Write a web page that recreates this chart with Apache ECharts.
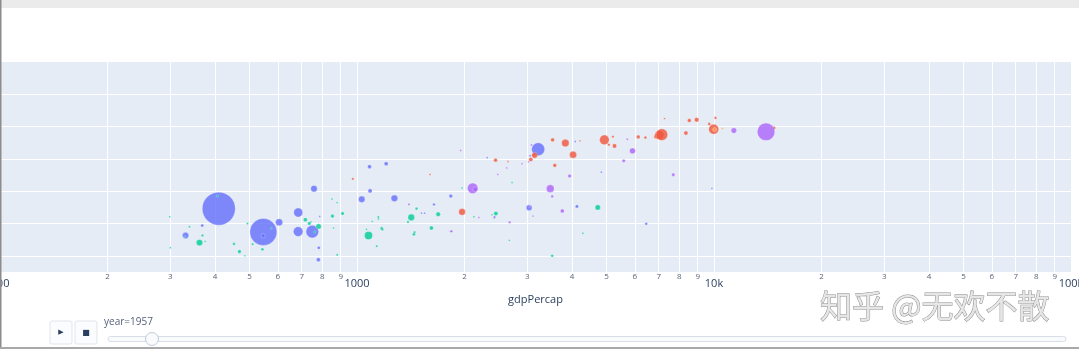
<!DOCTYPE html>
<html><head><meta charset="utf-8">
<script src="https://cdn.jsdelivr.net/npm/echarts@6/dist/echarts.min.js"></script>
<style>html,body{margin:0;padding:0;background:#fff;}#c{width:1079px;height:349px;}</style>
</head><body><div id="c"></div><script>
// Data (frame labelled year=1957): [country, gdpPercap, lifeExp, pop in millions]
const continents = ['Asia', 'Europe', 'Africa', 'Americas', 'Oceania'];
const asia = [
  ['Afghanistan', 779.4, 28.8, 8.43], ['Bahrain', 9867, 50.9, 0.12], ['Bangladesh', 684.2, 37.5, 46.9],
  ['Cambodia', 368.5, 39.4, 4.69], ['China', 410, 44.6, 556.3], ['Hong Kong', 3054, 61.0, 2.13],
  ['India', 546.6, 37.4, 372.0], ['Indonesia', 749.7, 37.5, 82.05], ['Iran', 3035, 44.9, 17.27],
  ['Iraq', 4130, 45.3, 5.44], ['Israel', 4087, 65.4, 1.62], ['Japan', 3217, 63.0, 86.46],
  ['Jordan', 1547, 43.2, 0.61], ['Korea, Dem. Rep.', 1088, 50.1, 8.87], ['Korea, Rep.', 1031, 47.5, 20.95],
  ['Lebanon', 4835, 55.9, 1.44], ['Malaysia', 1831, 48.5, 6.75], ['Mongolia', 786.6, 42.2, 0.80],
  ['Myanmar', 331, 36.3, 20.09], ['Nepal', 545.9, 36.2, 9.18], ['Oman', 1828, 37.6, 0.51],
  ['Pakistan', 684.6, 43.4, 41.35], ['Philippines', 1273, 47.8, 22.44], ['Saudi Arabia', 6460, 39.9, 4.01],
  ['Singapore', 2315, 60.4, 1.13], ['Sri Lanka', 1084, 57.6, 7.98], ['Syria', 1643, 45.9, 3.66],
  ['Taiwan', 1207, 58.5, 8.55], ['Thailand', 757.8, 50.8, 21.29], ['Vietnam', 605.1, 40.4, 26.25],
  ['West Bank and Gaza', 1516, 43.2, 1.03], ['Yemen, Rep.', 781.7, 32.5, 4.96]
];
const europe = [
  ['Albania', 1601, 55.2, 1.28], ['Austria', 6137, 66.8, 6.93], ['Belgium', 8343, 68.0, 8.73],
  ['Bosnia and Herzegovina', 973.5, 53.8, 2.79], ['Bulgaria', 2444, 59.6, 7.27], ['Croatia', 3119, 61.2, 3.88],
  ['Czech Republic', 6876, 66.9, 9.13], ['Denmark', 9692, 70.8, 4.33], ['Finland', 6425, 66.6, 4.09],
  ['France', 7030, 67.4, 42.46], ['Germany', 7144, 67.5, 69.15], ['Greece', 3531, 65.9, 7.73],
  ['Hungary', 5264, 64.0, 9.50], ['Iceland', 7268, 72.5, 0.15], ['Ireland', 5210, 66.9, 2.95],
  ['Italy', 4931, 65.9, 47.67], ['Montenegro', 2648, 59.2, 0.41], ['Netherlands', 8942, 72.1, 10.38],
  ['Norway', 10095, 72.7, 3.33], ['Poland', 4029, 61.3, 25.73], ['Portugal', 3068, 59.8, 8.53],
  ['Romania', 3145, 61.1, 16.63], ['Serbia', 3581, 58.0, 6.86], ['Slovak Republic', 5075, 64.4, 3.56],
  ['Slovenia', 4215, 65.6, 1.49], ['Spain', 3834, 64.9, 28.55], ['Sweden', 8528, 71.9, 7.12],
  ['Switzerland', 14734, 69.6, 4.82], ['Turkey', 1969, 43.6, 22.24], ['United Kingdom', 9980, 69.2, 50.43]
];
const africa = [
  ['Algeria', 2449, 43.1, 9.28], ['Angola', 3521, 30.0, 4.23], ['Benin', 1063, 38.2, 1.74],
  ['Botswana', 851.2, 47.6, 0.44], ['Burkina Faso', 543.3, 32.0, 4.47], ['Burundi', 339.3, 39.0, 2.45],
  ['Cameroon', 1173, 38.5, 5.01], ['Central African Republic', 1071, 35.5, 1.29], ['Chad', 1179, 38.1, 2.68],
  ['Comoros', 1103, 40.7, 0.15], ['Congo, Dem. Rep.', 780.5, 39.1, 14.1], ['Congo, Rep.', 2126, 42.1, 0.85],
  ["Cote d'Ivoire", 1389, 40.5, 2.98], ['Djibouti', 2670, 34.8, 0.06], ['Egypt', 1419, 41.9, 22.22],
  ['Equatorial Guinea', 375.6, 34.5, 0.22], ['Eritrea', 328.9, 35.9, 1.44], ['Ethiopia', 362.1, 34.1, 20.86],
  ['Gabon', 4293, 37.0, 0.42], ['Gambia', 485.2, 30.0, 0.28], ['Ghana', 911.3, 43.1, 5.58],
  ['Guinea', 510.2, 33.6, 2.66], ['Guinea-Bissau', 299.9, 32.5, 0.58], ['Kenya', 853.5, 42.3, 6.46],
  ['Lesotho', 298.8, 42.1, 0.75], ['Liberia', 575.6, 38.5, 0.86], ['Libya', 2388, 42.7, 1.02],
  ['Madagascar', 1443, 36.7, 4.76], ['Malawi', 369.2, 36.3, 2.92], ['Mali', 452.3, 33.7, 3.84],
  ['Mauritania', 743.1, 40.5, 1.02], ['Mauritius', 1968, 51.0, 0.52], ['Morocco', 1688, 42.9, 9.94],
  ['Mozambique', 468.5, 31.3, 6.45], ['Namibia', 2424, 41.7, 0.49], ['Niger', 761.9, 37.4, 3.38],
  ['Nigeria', 1077, 36.3, 33.12], ['Reunion', 2719, 52.7, 0.26], ['Rwanda', 493.3, 40.0, 2.53],
  ['Sao Tome and Principe', 879.6, 46.5, 0.06], ['Senegal', 1450, 37.3, 2.76], ['Sierra Leone', 879.8, 30.3, 2.14],
  ['Somalia', 1136, 33.0, 2.53], ['South Africa', 4725, 45.0, 14.26], ['Sudan', 1616, 38.6, 8.5],
  ['Swaziland', 1148, 41.4, 0.29], ['Tanzania', 716.7, 41.2, 8.32], ['Togo', 859.8, 38.6, 1.22],
  ['Tunisia', 1468, 44.6, 3.65], ['Uganda', 734.8, 40.0, 5.82], ['Zambia', 1147, 42.0, 2.67],
  ['Zimbabwe', 406.9, 48.5, 3.08]
];
const americas = [
  ['Argentina', 5911, 62.5, 17.88], ['Bolivia', 2677, 40.4, 2.88], ['Brazil', 2109, 50.9, 56.6],
  ['Canada', 11367, 68.8, 14.79], ['Chile', 3940, 54.7, 6.38], ['Colombia', 2144, 50.6, 12.35],
  ['Costa Rica', 2627, 57.2, 0.93], ['Cuba', 5587, 59.4, 6.01], ['Dominican Republic', 1398, 45.9, 2.49],
  ['Ecuador', 3522, 48.4, 3.55], ['El Salvador', 3048, 45.3, 2.04], ['Guatemala', 2428, 42.0, 3.15],
  ['Haiti', 1840, 37.6, 3.2], ['Honduras', 2195, 41.9, 1.52], ['Jamaica', 2899, 58.5, 1.43],
  ['Mexico', 3478, 50.8, 30.14], ['Nicaragua', 3112, 42.3, 1.17], ['Panama', 2480, 55.2, 0.94],
  ['Paraguay', 1952, 62.6, 1.56], ['Peru', 3759, 43.9, 8.03], ['Puerto Rico', 3082, 64.3, 2.23],
  ['Trinidad and Tobago', 3023, 59.1, 0.66], ['United States', 13990, 68.4, 157.55],
  ['Uruguay', 5717, 66.1, 2.25], ['Venezuela', 7690, 55.1, 5.44]
];
const oceania = [
  ['Australia', 10040, 69.1, 8.69], ['New Zealand', 10557, 69.4, 1.99]
];
const xGridValues = [100, 200, 300, 400, 500, 600, 700, 800, 900,
  1000, 2000, 3000, 4000, 5000, 6000, 7000, 8000, 9000,
  10000, 20000, 30000, 40000, 50000, 60000, 70000, 80000, 90000, 100000];
const xMajorValues = [100, 1000, 10000, 100000];
const xMajorLabels = ['100', '1000', '10k', '100k'];
const xMinorValues = [200, 300, 400, 500, 600, 700, 800, 900,
  2000, 3000, 4000, 5000, 6000, 7000, 8000, 9000,
  20000, 30000, 40000, 50000, 60000, 70000, 80000, 90000];
const xMinorLabels = ['2', '3', '4', '5', '6', '7', '8', '9', '2', '3', '4', '5', '6', '7', '8', '9',
  '2', '3', '4', '5', '6', '7', '8', '9'];
const yGridValues = [30, 40, 50, 60, 70, 80];
const sliderLabel = 'year=1957';
const watermark = '知乎 @无欢不散';

const colors = ['#636efa', '#EF553B', '#00cc96', '#ab63fa', '#FFA15A'];
const groups = [asia, europe, africa, americas, oceania];
const font = "'Open Sans', 'Noto Sans', sans-serif";

const chart = echarts.init(document.getElementById('c'), null, { renderer: 'canvas' });
chart.setOption({
  animation: false,
  backgroundColor: '#ffffff',
  textStyle: { fontFamily: font },
  grid: { left: 0, right: 8, top: 62, bottom: 77, show: true, backgroundColor: '#E5ECF6', borderWidth: 0,
          containLabel: false, outerBoundsMode: 'none' },
  xAxis: [{
    type: 'log', logBase: 10, min: 100, max: 100000,
    axisLine: { show: false },
    axisTick: { show: false, customValues: xGridValues },
    splitLine: { show: true, lineStyle: { color: '#ffffff', width: 1 } },
    axisLabel: {
      customValues: xMajorValues, margin: 6, fontSize: 11, color: '#2a3f5f', fontFamily: font, hideOverlap: false,
      formatter: v => { const i = xMajorValues.indexOf(Math.round(v)); return i >= 0 ? xMajorLabels[i] : ''; }
    },
    name: 'gdpPercap', nameLocation: 'middle', nameGap: 21,
    nameTextStyle: { fontSize: 11, color: '#2a3f5f', fontFamily: font }
  }, {
    type: 'log', logBase: 10, min: 100, max: 100000, position: 'bottom', offset: 0,
    axisLine: { show: false }, axisTick: { show: false }, splitLine: { show: false },
    axisLabel: {
      customValues: xMinorValues, margin: 1, fontSize: 8, color: '#5a6478', fontFamily: font, hideOverlap: false,
      formatter: v => { const i = xMinorValues.indexOf(Math.round(v)); return i >= 0 ? xMinorLabels[i] : ''; }
    }
  }],
  yAxis: {
    type: 'value', min: 25, max: 90,
    axisLine: { show: false },
    axisTick: { show: false, customValues: yGridValues },
    axisLabel: { show: false },
    splitLine: { show: true, lineStyle: { color: '#ffffff', width: 1 } }
  },
  series: groups.map((rows, i) => ({
    name: continents[i], type: 'scatter', clip: true, xAxisIndex: 0,
    data: rows.map(r => ({ name: r[0], value: [r[1], r[2], r[3]] })),
    symbolSize: v => Math.max(1.8, 1.4 * Math.sqrt(v[2])),
    itemStyle: { color: colors[i], opacity: 0.8, borderColor: 'rgba(255,255,255,0.55)', borderWidth: 0.6 }
  })),
  graphic: [
    { type: 'rect', left: 0, top: 0, shape: { width: 1079, height: 8 }, style: { fill: '#ebebeb' }, silent: true },
    { type: 'rect', left: 0, top: 0, shape: { width: 1.5, height: 349 }, style: { fill: '#8c8c8c' }, silent: true, z: 10 },
    { type: 'rect', left: 0, top: 347, shape: { width: 1079, height: 2 }, style: { fill: '#a8a8a8' }, silent: true, z: 10 },
    { type: 'rect', shape: { x: 50, y: 321, width: 22, height: 23, r: 2 }, style: { fill: '#fbfcfd', stroke: '#e1e5ea', lineWidth: 1 } },
    { type: 'rect', shape: { x: 75, y: 321, width: 22, height: 23, r: 2 }, style: { fill: '#fbfcfd', stroke: '#e1e5ea', lineWidth: 1 } },
    { type: 'text', style: { x: 61, y: 332.5, text: '▶', fontSize: 7, fill: '#2a3f5f', align: 'center', verticalAlign: 'middle', fontFamily: 'DejaVu Sans' } },
    { type: 'text', style: { x: 86, y: 332.5, text: '■', fontSize: 8, fill: '#2a3f5f', align: 'center', verticalAlign: 'middle', fontFamily: 'DejaVu Sans' } },
    { type: 'text', style: { x: 104, y: 322, text: sliderLabel, fontSize: 10, fill: '#55607a', verticalAlign: 'middle', fontFamily: font } },
    { type: 'rect', shape: { x: 108, y: 336.5, width: 958, height: 5, r: 2.5 }, style: { fill: '#f8fafc', stroke: '#d9dee6', lineWidth: 1 } },
    { type: 'circle', shape: { cx: 152, cy: 339, r: 6.5 }, style: { fill: '#f8fafc', stroke: '#c4ccd8', lineWidth: 1 } },
    { type: 'text', style: { x: 820, y: 306, text: watermark, fontSize: 32, fill: '#e6e6e6', stroke: '#8f8f8f', lineWidth: 1, verticalAlign: 'middle', fontFamily: "'Noto Sans CJK SC'" } }
  ]
});
</script></body></html>
